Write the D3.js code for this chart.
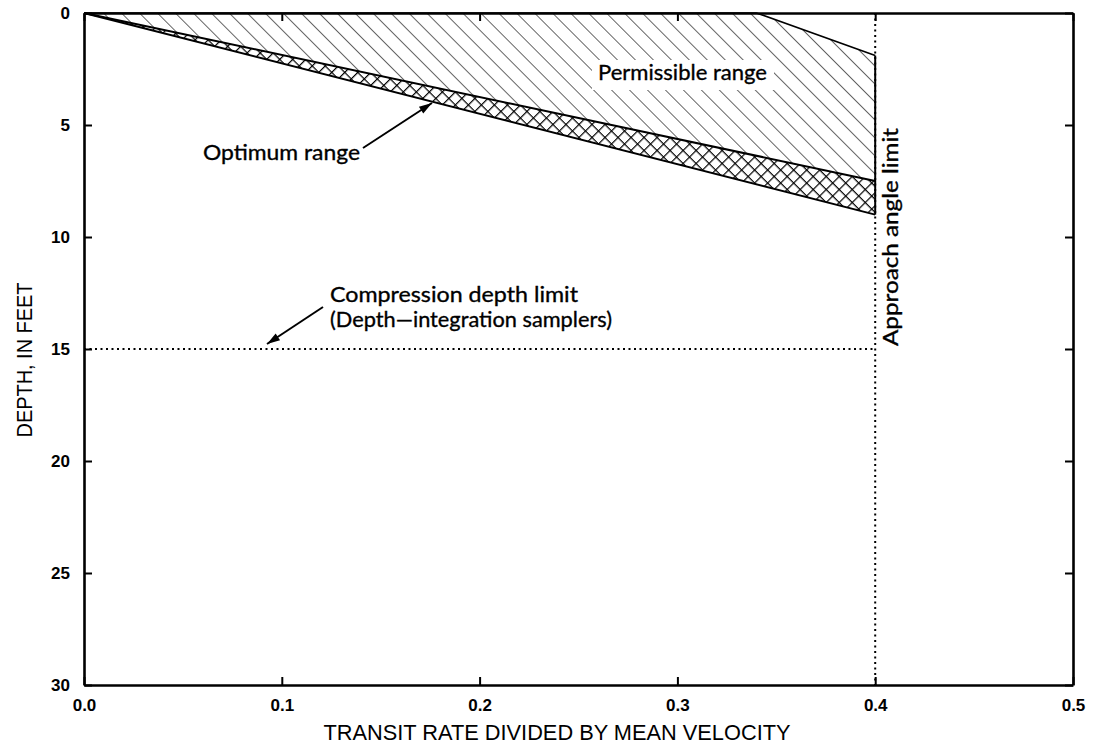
<!DOCTYPE html>
<html><head><meta charset="utf-8">
<script src="https://cdn.jsdelivr.net/npm/d3@7"></script>
<style>body{margin:0;background:#fff}svg{display:block}</style>
</head><body>
<svg id="chart" width="1093" height="747"></svg>
<script>
// ---- data ----
const xTicks = [0.0, 0.1, 0.2, 0.3, 0.4, 0.5];
const yTicks = [0, 5, 10, 15, 20, 25, 30];
const permissibleTop = [[0, 0], [0.34, 0], [0.4, 1.9]];   // upper edge of permissible range
const optimumTop = [[0, 0], [0.4, 7.5]];                    // lower edge permissible / upper edge optimum
const optimumBottom = [[0, 0], [0.4, 9.0]];                 // lower edge optimum
const compressionDepth = 15;
const approachAngleLimit = 0.4;
const xLabel = "TRANSIT RATE DIVIDED BY MEAN VELOCITY";
const yLabel = "DEPTH, IN FEET";

// ---- layout ----
const svg = d3.select("#chart");
const x = d3.scaleLinear().domain([0, 0.5]).range([84, 1073]);
const y = d3.scaleLinear().domain([0, 30]).range([13, 685]);
const font = "Lato, 'Noto Sans', sans-serif";

const defs = svg.append("defs");
const hatch = defs.append("pattern").attr("id", "hatch").attr("patternUnits", "userSpaceOnUse")
  .attr("width", 12.7).attr("height", 12.7).attr("patternTransform", "rotate(-45)");
hatch.append("line").attr("x1", 0).attr("y1", 0).attr("x2", 0).attr("y2", 12.7)
  .attr("stroke", "#000").attr("stroke-width", 1.2);
const cross = defs.append("pattern").attr("id", "cross").attr("patternUnits", "userSpaceOnUse")
  .attr("width", 9.2).attr("height", 9.2).attr("patternTransform", "rotate(45)");
cross.append("rect").attr("width", 9.2).attr("height", 9.2).attr("fill", "#fff");
cross.append("line").attr("x1", 0).attr("y1", 0).attr("x2", 0).attr("y2", 9.2).attr("stroke", "#000").attr("stroke-width", 2.4);
cross.append("line").attr("x1", 0).attr("y1", 0).attr("x2", 9.2).attr("y2", 0).attr("stroke", "#000").attr("stroke-width", 2.4);

const line = d3.line().x(d => x(d[0])).y(d => y(d[1]));

// permissible region polygon
const permPoly = permissibleTop.concat(optimumTop.slice().reverse());
svg.append("path").attr("d", line(permPoly) + "Z").attr("fill", "url(#hatch)").attr("stroke", "none");
// optimum region polygon
const optPoly = optimumTop.concat(optimumBottom.slice().reverse());
svg.append("path").attr("d", line(optPoly) + "Z").attr("fill", "url(#cross)").attr("stroke", "none");

// boundaries
svg.append("path").attr("d", line(permissibleTop)).attr("fill", "none").attr("stroke", "#000").attr("stroke-width", 1.6);
svg.append("path").attr("d", line(optimumTop)).attr("fill", "none").attr("stroke", "#000").attr("stroke-width", 2);
svg.append("path").attr("d", line(optimumBottom)).attr("fill", "none").attr("stroke", "#000").attr("stroke-width", 2);

// approach angle limit: dotted full height, solid across the ranges
svg.append("line").attr("x1", x(approachAngleLimit)).attr("x2", x(approachAngleLimit))
  .attr("y1", y(0)).attr("y2", y(30)).attr("stroke", "#000").attr("stroke-width", 2).attr("stroke-dasharray", "2,3.5");
svg.append("line").attr("x1", x(approachAngleLimit)).attr("x2", x(approachAngleLimit))
  .attr("y1", y(permissibleTop[permissibleTop.length - 1][1])).attr("y2", y(optimumBottom[1][1]))
  .attr("stroke", "#000").attr("stroke-width", 2);

// compression depth limit
svg.append("line").attr("x1", x(0)).attr("x2", x(approachAngleLimit))
  .attr("y1", y(compressionDepth)).attr("y2", y(compressionDepth))
  .attr("stroke", "#000").attr("stroke-width", 2).attr("stroke-dasharray", "2,3.5");

// ---- axes ----
const axStyle = g => {
  g.select(".domain").attr("stroke", "#000").attr("stroke-width", 2.6);
  g.selectAll(".tick line").attr("stroke", "#000").attr("stroke-width", 2);
  g.selectAll(".tick text").attr("font-family", "'Liberation Sans', Arial, sans-serif")
    .attr("font-weight", "bold").attr("font-size", 17).attr("fill", "#000");
};
svg.append("g").attr("transform", `translate(0,${y(30)})`)
  .call(d3.axisBottom(x).tickValues(xTicks).tickFormat(d3.format(".1f")).tickSizeInner(-8).tickSizeOuter(0).tickPadding(14))
  .call(axStyle);
svg.append("g").attr("transform", `translate(0,${y(0)})`)
  .call(d3.axisTop(x).tickValues(xTicks).tickFormat("").tickSizeInner(-8).tickSizeOuter(0))
  .call(axStyle);
svg.append("g").attr("transform", `translate(${x(0)},0)`)
  .call(d3.axisLeft(y).tickValues(yTicks).tickSizeInner(-8).tickSizeOuter(0).tickPadding(14))
  .call(axStyle);
svg.append("g").attr("transform", `translate(${x(0.5)},0)`)
  .call(d3.axisRight(y).tickValues(yTicks).tickFormat("").tickSizeInner(-8).tickSizeOuter(0))
  .call(axStyle);

// ---- axis titles ----
svg.append("text").attr("x", 557).attr("y", 740).attr("text-anchor", "middle")
  .attr("font-family", "'Liberation Sans', Arial, sans-serif").attr("font-size", 22)
  .attr("textLength", 467).attr("lengthAdjust", "spacingAndGlyphs").text(xLabel);
svg.append("text").attr("transform", "translate(32,360) rotate(-90)").attr("text-anchor", "middle")
  .attr("font-family", "'Liberation Sans', Arial, sans-serif").attr("font-size", 22)
  .attr("textLength", 155).attr("lengthAdjust", "spacingAndGlyphs").text(yLabel);

// ---- annotations ----
function label(txt, xx, yy, len) {
  return svg.append("text").attr("x", xx).attr("y", yy).attr("font-family", font).attr("font-size", 22)
    .attr("stroke", "#000").attr("stroke-width", 0.35)
    .attr("textLength", len).attr("lengthAdjust", "spacingAndGlyphs").attr("fill", "#000").text(txt);
}
svg.append("rect").attr("x", 592).attr("y", 60).attr("width", 182).attr("height", 30).attr("fill", "#fff");
label("Permissible range", 598, 80, 169);
label("Optimum range", 203, 160, 157);
label("Compression depth limit", 330, 302, 248);
label("(Depth\u2014integration samplers)", 330, 327, 282);
svg.append("text").attr("transform", "translate(898,128) rotate(-90)").attr("text-anchor", "end")
  .attr("font-family", font).attr("font-size", 22).attr("stroke", "#000").attr("stroke-width", 0.35)
  .attr("textLength", 218).attr("lengthAdjust", "spacingAndGlyphs")
  .text("Approach angle limit");

// arrows
function arrow(x1, y1, x2, y2) {
  svg.append("line").attr("x1", x1).attr("y1", y1).attr("x2", x2).attr("y2", y2).attr("stroke", "#000").attr("stroke-width", 2);
  const a = Math.atan2(y2 - y1, x2 - x1), L = 13, w = 4;
  const bx = x2 - L * Math.cos(a), by = y2 - L * Math.sin(a);
  svg.append("path").attr("d", `M${x2},${y2}L${bx - w * Math.sin(a)},${by + w * Math.cos(a)}L${bx + w * Math.sin(a)},${by - w * Math.cos(a)}Z`).attr("fill", "#000");
}
arrow(363, 148, 432, 103);
arrow(323, 307, 267, 344);
</script>
</body></html>
